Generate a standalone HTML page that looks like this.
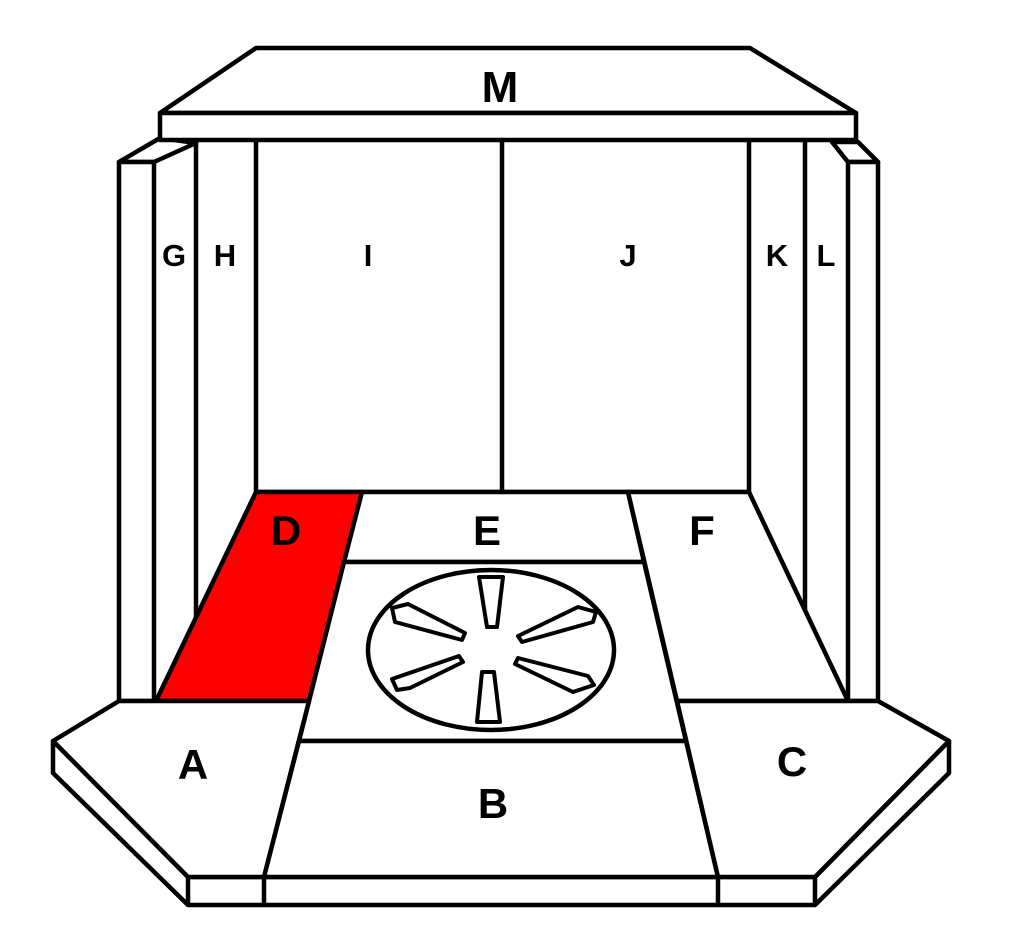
<!DOCTYPE html>
<html><head><style>html,body{margin:0;padding:0;background:#fff}svg{display:block}</style></head>
<body>
<svg width="1013" height="950" viewBox="0 0 1013 950" xmlns="http://www.w3.org/2000/svg">
<g fill="#fff" stroke="#000" stroke-width="4.5" stroke-linejoin="round">
<!-- G / L side pillars -->
<polygon points="119,162 160,138 196,143 154,162"/>
<rect x="119" y="162" width="35" height="539"/>
<polygon points="832,142 858,142 878,162 848,162"/>
<rect x="848" y="162" width="30" height="539"/>
<!-- back walls -->
<line x1="196" y1="140" x2="196" y2="617"/>
<line x1="256" y1="140" x2="256" y2="492"/>
<line x1="502" y1="140" x2="502" y2="492"/>
<line x1="749" y1="140" x2="749" y2="492"/>
<line x1="805" y1="140" x2="805" y2="610"/>
<!-- M -->
<polygon points="160,113 256,48 750,48 856,113"/>
<rect x="160" y="113" width="696" height="27"/>
<!-- floor -->
<line x1="256" y1="492" x2="749" y2="492"/>
<polygon points="256,492 362,492 309,701 156,701" fill="#ff0000"/>
<polygon points="362,492 628,492 644,562 344,562"/>
<polygon points="628,492 749,492 848,701 677,701"/>
<polygon points="344,562 644,562 686,741 299,741"/>
<!-- front face -->
<polygon points="53,741 53,773 188,905 815,905 949,773 949,741 815,877 188,877"/>
<line x1="188" y1="877" x2="188" y2="905"/>
<line x1="264" y1="877" x2="264" y2="905"/>
<line x1="718" y1="877" x2="718" y2="905"/>
<line x1="815" y1="877" x2="815" y2="905"/>
<!-- A -->
<polygon points="119,701 309,701 264,877 188,877 53,741"/>
<!-- B -->
<polygon points="299,741 686,741 718,877 264,877"/>
<!-- C -->
<polygon points="677,701 878,701 949,741 815,877 718,877"/>
<!-- grate -->
<ellipse cx="491" cy="650" rx="123" ry="80"/>
<g stroke-width="4">
<polygon points="479,577 503,577 497,627 487,627"/>
<polygon points="477,722 500,722 494,672 482,672"/>
<polygon points="392,608 408,604 465,633 462,640 395,622"/>
<polygon points="392,679 397,690 410,688 463,662 459,656"/>
<polygon points="518,636 522,642 593,622 596,612 578,607"/>
<polygon points="515,664 518,658 588,676 594,685 573,692"/>
</g>
</g>
<g font-family="Liberation Sans, sans-serif" font-weight="bold" text-anchor="middle" fill="#000">
<text x="500" y="102" font-size="44">M</text>
<text x="174" y="266" font-size="31">G</text>
<text x="225" y="266" font-size="31">H</text>
<text x="368" y="266" font-size="31">I</text>
<text x="628" y="266" font-size="31">J</text>
<text x="777" y="266" font-size="31">K</text>
<text x="826" y="266" font-size="31">L</text>
<text x="286" y="545" font-size="42">D</text>
<text x="487" y="545" font-size="42">E</text>
<text x="702" y="545" font-size="42">F</text>
<text x="193" y="779" font-size="42">A</text>
<text x="493" y="818" font-size="42">B</text>
<text x="792" y="776" font-size="42">C</text>
</g>
</svg>
</body></html>
